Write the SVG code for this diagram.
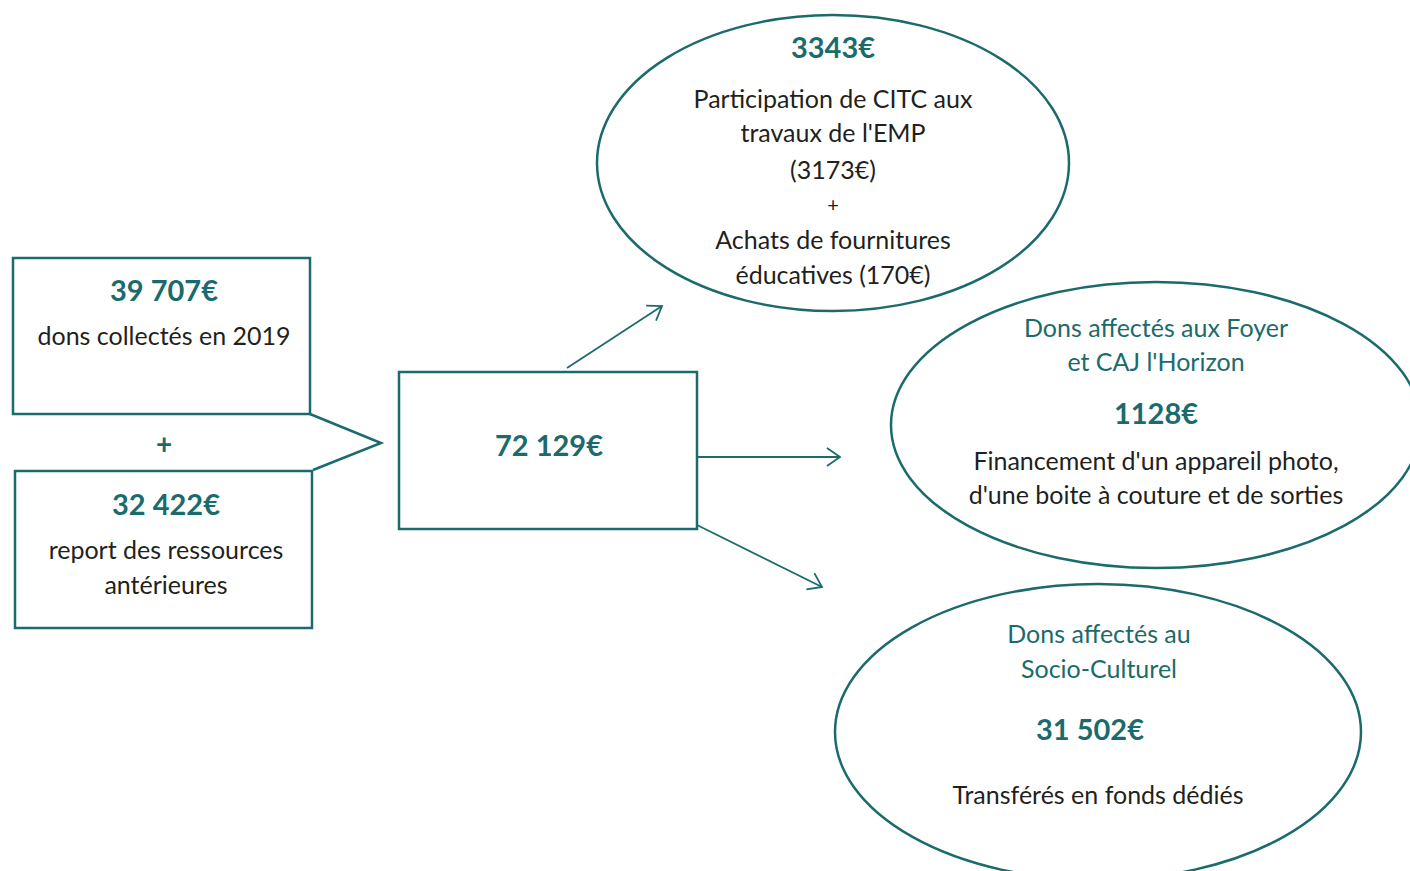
<svg xmlns="http://www.w3.org/2000/svg" width="1410" height="871" viewBox="0 0 1410 871">
<defs>
<style>
.shape{fill:none;stroke:#1b6b6c;stroke-width:2.5}
.conn{fill:none;stroke:#1b6b6c;stroke-width:1.8}
.num{font-family:Lato,"Open Sans",sans-serif;font-weight:bold;font-size:29px;fill:#1b6b6c;text-anchor:middle}
.txt{font-family:Lato,"Open Sans",sans-serif;font-size:25px;fill:#231f20;text-anchor:middle}
.ttl{font-family:Lato,"Open Sans",sans-serif;font-size:25px;fill:#1b6b6c;text-anchor:middle}
</style>
<marker id="arr" markerWidth="22" markerHeight="22" refX="17" refY="11" orient="auto" markerUnits="userSpaceOnUse">
<path d="M4,2 L17,11 L4,20" fill="none" stroke="#1b6b6c" stroke-width="1.8"/>
</marker>
</defs>
<rect width="1410" height="871" fill="#ffffff"/>
<g id="source-dons">
<rect class="shape" x="13" y="258" width="297" height="156"/>
<text class="num" x="164" y="301">39 707€</text>
<text class="txt" x="164" y="345">dons collectés en 2019</text>
</g>
<g id="plus">
<text class="num" x="164" y="454" style="font-size:28px">+</text>
</g>
<g id="source-report">
<rect class="shape" x="15" y="471" width="297" height="157"/>
<text class="num" x="166" y="515">32 422€</text>
<text class="txt" x="166" y="559">report des ressources</text>
<text class="txt" x="166" y="594">antérieures</text>
</g>
<g id="pointer">
<polyline class="shape" points="310,414 381,443 313,470"/>
</g>
<g id="total">
<rect class="shape" x="399" y="372" width="298" height="157"/>
<text class="num" x="549" y="456">72 129€</text>
</g>
<g id="connectors">
<line class="conn" x1="567" y1="368" x2="662" y2="306" marker-end="url(#arr)"/>
<line class="conn" x1="697" y1="457" x2="840" y2="457" marker-end="url(#arr)"/>
<line class="conn" x1="697" y1="525" x2="822" y2="587" marker-end="url(#arr)"/>
</g>
<g id="citc">
<ellipse class="shape" cx="833" cy="163" rx="236" ry="148"/>
<text class="num" x="833" y="58">3343€</text>
<text class="txt" x="833" y="108">Participation de CITC aux</text>
<text class="txt" x="833" y="142">travaux de l'EMP</text>
<text class="txt" x="833" y="179">(3173€)</text>
<text class="txt" x="833" y="212" style="font-size:20px">+</text>
<text class="txt" x="833" y="249">Achats de fournitures</text>
<text class="txt" x="833" y="284">éducatives (170€)</text>
</g>
<g id="foyer">
<ellipse class="shape" cx="1156" cy="425" rx="265" ry="143"/>
<text class="ttl" x="1156" y="337">Dons affectés aux Foyer</text>
<text class="ttl" x="1156" y="371">et CAJ l'Horizon</text>
<text class="num" x="1156" y="424">1128€</text>
<text class="txt" x="1156" y="470">Financement d'un appareil photo,</text>
<text class="txt" x="1156" y="504">d'une boite à couture et de sorties</text>
</g>
<g id="socio">
<ellipse class="shape" cx="1098" cy="732" rx="263" ry="148"/>
<text class="ttl" x="1099" y="643">Dons affectés au</text>
<text class="ttl" x="1099" y="678">Socio-Culturel</text>
<text class="num" x="1090" y="740">31 502€</text>
<text class="txt" x="1098" y="804">Transférés en fonds dédiés</text>
</g>
</svg>
